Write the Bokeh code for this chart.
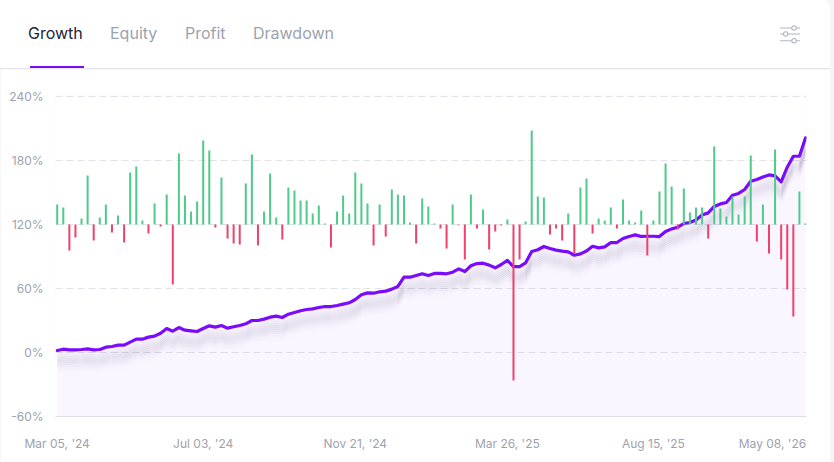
import math

from bokeh.embed import file_html
from bokeh.layouts import column
from bokeh.models import Div, FixedTicker, Range1d
from bokeh.plotting import figure
from bokeh.resources import INLINE

# ---- data ---------------------------------------------------------------
# cumulative growth in %, one value per period
growth = [
    1.9, 3.1, 2.5, 2.5, 2.8, 3.4, 2.5, 2.8, 5.0, 5.6,
    6.9, 6.9, 9.7, 12.5, 12.5, 14.4, 15.3, 18.1, 22.5, 20.0,
    23.4, 20.9, 20.3, 19.7, 22.5, 25.0, 23.8, 25.3, 22.8, 24.1,
    25.3, 26.9, 30.0, 30.0, 31.3, 33.1, 34.1, 32.8, 35.9, 37.5,
    39.1, 40.3, 40.9, 42.2, 43.1, 43.1, 44.1, 45.3, 46.6, 49.7,
    54.1, 55.9, 55.6, 56.9, 57.5, 59.4, 61.9, 70.6, 70.6, 72.2,
    73.8, 72.2, 74.1, 74.1, 73.8, 75.3, 78.4, 75.9, 81.3, 83.4,
    83.7, 81.9, 79.4, 82.5, 86.3, 80.6, 80.6, 84.1, 94.7, 96.3,
    99.4, 97.5, 96.0, 95.0, 94.3, 91.2, 92.5, 95.2, 99.6, 98.1,
    99.0, 103.1, 103.1, 106.9, 108.8, 110.3, 108.8, 109.0, 109.0, 108.7,
    113.4, 115.9, 117.5, 120.9, 121.9, 124.3, 129.0, 130.9, 136.9, 139.3,
    140.6, 147.5, 149.1, 152.8, 160.6, 162.2, 164.6, 166.5, 165.6, 160.0,
    173.7, 184.0, 184.0, 201.2,
]

# profit per period in %
profit = [
    5.0, 4.25, -6.5, -3.25, 1.5, 12.25, -4.0, 1.75, 5.0, -2.0,
    2.25, -4.5, 13.0, 14.5, 1.0, -2.25, 5.25, -0.5, 7.5, -15.0,
    17.75, 7.25, 3.25, 5.75, 21.0, 18.5, -0.75, 11.75, -3.5, -4.75,
    -5.0, 10.25, 17.5, -5.25, 3.25, 12.75, 1.75, -3.75, 9.25, 8.5,
    6.0, 6.0, 2.75, 4.75, 0.25, -5.75, 3.25, 7.25, 2.75, 13.0,
    10.25, 5.25, -5.25, 5.0, -3.0, 8.75, 7.5, 7.25, 0.5, -4.75,
    6.5, 4.5, 0.25, -1.0, -6.0, 5.0, -0.2, -8.75, 7.5, -1.0,
    3.75, -6.25, -1.75, -0.25, 1.25, -39.0, -8.75, 0.75, 23.5, 7.0,
    6.75, -2.5, -1.0, -4.0, 2.75, -7.25, 9.25, 11.5, -2.25, 1.5,
    1.0, 4.25, -1.0, 6.25, 1.0, 0.5, 3.5, -7.75, 1.0, 8.25,
    15.25, 9.5, -1.25, 9.0, 3.0, 4.25, 4.25, -3.5, 19.5, 4.0,
    2.0, 7.0, 2.5, 7.0, 17.25, -4.25, 5.0, -7.25, 18.75, -8.75,
    -16.25, -23.0, 8.25, 0.25,
]

period = list(range(len(growth)))

date_ticks = [0, 24, 49, 74, 98]
date_labels = ["Mar 05, '24", "Jul 03, '24", "Nov 21, '24", "Mar 26, '25", "Aug 15, '25"]
last_date_label = "May 08, '26"

growth_ticks = [-60, 0, 60, 120, 180, 240]
tabs = ["Growth", "Equity", "Profit", "Drawdown"]

# ---- styling ------------------------------------------------------------
FONT = "Inter"
LABEL_GRAY = "#9ea2ae"
GRID = "#e2e2e9"
PURPLE = "#7a0bfb"
GREEN = "#4ecb8a"
RED = "#ef416c"

W, H_HEAD = 830, 69
H_PLOT = 462 - H_HEAD

# ---- header with tabs ---------------------------------------------------
tab_left = [28, 110, 185, 253]
spans = []
for i, (name, left) in enumerate(zip(tabs, tab_left)):
    color = "#23233a" if i == 0 else "#9ca3af"
    spans.append(
        f'<span style="position:absolute;left:{left}px;top:23px;font-size:16px;'
        f'line-height:20px;color:{color};white-space:nowrap">{name}</span>'
    )

icon = (
    '<svg width="22" height="20" viewBox="0 0 22 20" '
    'style="position:absolute;left:779px;top:25px" fill="none" '
    'stroke="#b3b4c3" stroke-width="1.1">'
    '<line x1="1" y1="3" x2="21" y2="3"/><circle cx="15" cy="3" r="2.2" fill="#fff"/>'
    '<line x1="1" y1="9" x2="21" y2="9"/><circle cx="6.7" cy="9" r="2.2" fill="#fff"/>'
    '<line x1="1" y1="15.7" x2="21" y2="15.7"/><circle cx="15" cy="15.7" r="2.2" fill="#fff"/>'
    '</svg>'
)

header_html = (
    f'<div style="position:relative;width:{W}px;height:{H_HEAD}px;background:#fff;'
    f'font-family:{FONT},sans-serif;border-top-right-radius:8px;overflow:hidden">'
    + "".join(spans)
    + '<div style="position:absolute;left:30px;top:66px;width:54px;height:1.5px;'
      f'background:{PURPLE}"></div>'
    + f'<div style="position:absolute;left:0;top:68px;width:{W}px;height:1px;background:#e4e4ec"></div>'
    + icon
    + "</div>"
)
header = Div(text=header_html, width=W, height=H_HEAD, margin=0)

# ---- chart --------------------------------------------------------------
n = len(growth)
px_per_unit_y = 321 / 300.9375  # frame pixels per growth %
px_per_period = 751 / (n - 1 + 0.279 + 0.164)
x_start, x_end = -0.279, n - 1 + 0.164

p = figure(
    width=W,
    height=H_PLOT,
    x_range=Range1d(x_start, x_end),
    y_range=Range1d(-60, 240.9375),
    output_backend="svg",
    toolbar_location=None,
    min_border_left=55,
    min_border_right=24,
    min_border_top=26,
    min_border_bottom=46,
    background_fill_color="white",
    border_fill_color="white",
    outline_line_color=None,
    margin=0,
)

# secondary scale for the per-period bars, zero sitting on the 120% line
p.extra_y_ranges = {"bars": Range1d(-48, 32.25)}

# area under the growth curve
p.varea(x=period, y1=[-60] * n, y2=growth, fill_color=PURPLE, fill_alpha=0.035)

# soft drop shadow below the growth curve
for off in range(2, 28, 2):
    a = 0.095 * math.exp(-((off - 11) / 7.0) ** 2)
    shifted = [g - off / px_per_unit_y for g in growth]
    p.line(period, shifted, line_color="#4b3f6b", line_alpha=a, line_width=2.2)

# growth curve
p.line(period, growth, line_color=PURPLE, line_width=3.2, line_join="round", line_cap="round")

# per-period profit bars
pos_x = [i for i, v in zip(period, profit) if v >= 0]
pos_v = [v for v in profit if v >= 0]
neg_x = [i for i, v in zip(period, profit) if v < 0]
neg_v = [v for v in profit if v < 0]
p.vbar(x=pos_x, top=pos_v, bottom=0, width=0.33, fill_color=GREEN, line_color=None, y_range_name="bars")
p.vbar(x=neg_x, top=neg_v, bottom=0, width=0.33, fill_color=RED, line_color=None, y_range_name="bars")

# grid
p.xgrid.visible = False
p.ygrid.ticker = FixedTicker(ticks=growth_ticks)
p.ygrid.grid_line_color = GRID
p.ygrid.grid_line_dash = "7 4"
p.ygrid.grid_line_width = 1

# y axis
p.yaxis.ticker = FixedTicker(ticks=growth_ticks)
p.yaxis.major_label_overrides = {t: f"{t}%" for t in growth_ticks}
p.yaxis.axis_line_color = None
p.yaxis.major_tick_line_color = None
p.yaxis.minor_tick_line_color = None
p.yaxis.major_label_standoff = 6
p.yaxis.major_label_text_font = FONT
p.yaxis.major_label_text_font_size = "12px"
p.yaxis.major_label_text_color = LABEL_GRAY

# x axis: the final date label is pulled left so that it ends on the last period
last_label_pos = (n - 1) - 33 / px_per_period
x_ticks = date_ticks + [last_label_pos]
x_labels = date_labels + [last_date_label]
p.xaxis.ticker = FixedTicker(ticks=x_ticks)
p.xaxis.major_label_overrides = dict(zip(x_ticks, x_labels))
p.xaxis.axis_line_color = "#dedee6"
p.xaxis.major_tick_line_color = None
p.xaxis.minor_tick_line_color = None
p.xaxis.major_label_standoff = 13
p.xaxis.major_label_text_font = FONT
p.xaxis.major_label_text_font_size = "12px"
p.xaxis.major_label_text_color = LABEL_GRAY

layout = column(header, p, width=834, styles={"background-color": "#f4f5f7"}, margin=0)

open("out.html", "w").write(file_html(layout, INLINE))
